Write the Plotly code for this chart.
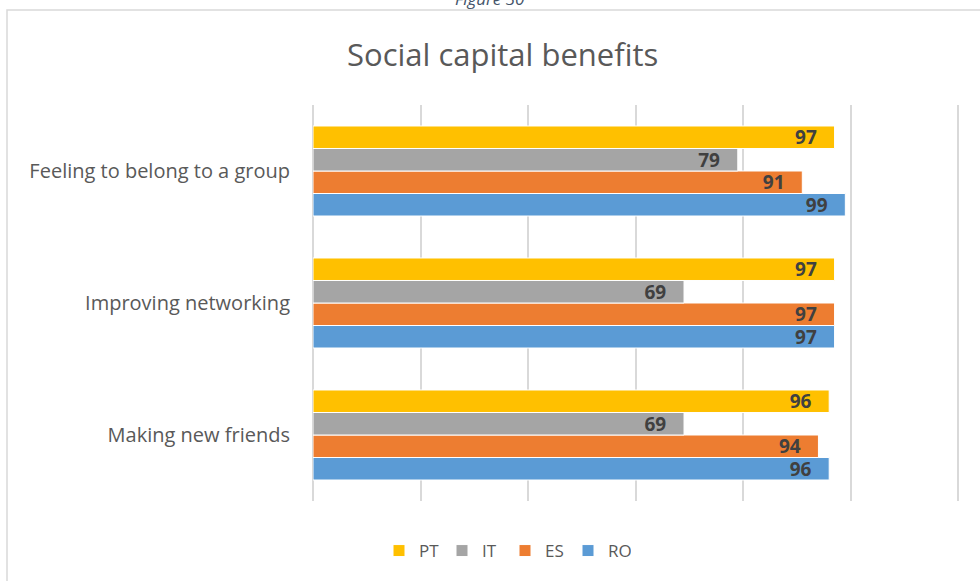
import plotly.graph_objects as go

# Categories listed bottom-to-top (Plotly draws the first category at the bottom)
categories = ["Making new friends", "Improving networking", "Feeling to belong to a group"]

# Percentages per country, same order as categories
pt_values = [96, 97, 97]
it_values = [69, 69, 79]
es_values = [94, 97, 91]
ro_values = [96, 97, 99]

grid_ticks = [0, 20, 40, 60, 80, 100, 120]

series = [
    ("RO", ro_values, "#5B9BD5"),
    ("ES", es_values, "#ED7D31"),
    ("IT", it_values, "#A5A5A5"),
    ("PT", pt_values, "#FFC000"),
]

W, H = 980, 581
L, R, T, B = 313, 11, 105, 80
pw, ph = W - L - R, H - T - B
GRID = "#D9D9D9"


def px_x(px):
    return (px - L) / pw


def px_y(py):
    return (H - B - py) / ph


fig = go.Figure()
for name, vals, color in series:
    fig.add_trace(go.Bar(
        name=name,
        y=categories,
        x=vals,
        orientation="h",
        marker=dict(color=color, line=dict(color="white", width=1)),
        text=[f"{v}\u00a0\u00a0\u00a0" for v in vals],
        textposition="inside",
        insidetextanchor="end",
        textangle=0,
        constraintext="none",
        textfont=dict(family="Open Sans", size=19, color="#404040", weight="bold"),
        hoverinfo="x+name",
    ))

frame = dict(
    type="rect",
    xref="paper", yref="paper",
    x0=px_x(7), x1=px_x(995),
    y0=px_y(600), y1=px_y(10),
    line=dict(color=GRID, width=1.5),
    fillcolor="rgba(0,0,0,0)",
    layer="below",
)

fig.update_layout(
    width=W,
    height=H,
    margin=dict(l=L, r=R, t=T, b=B),
    paper_bgcolor="white",
    plot_bgcolor="rgba(0,0,0,0)",
    barmode="group",
    bargap=0.318,
    bargroupgap=0,
    showlegend=True,
    legend=dict(
        orientation="h",
        traceorder="reversed",
        x=px_x(505),
        xanchor="center",
        y=px_y(551),
        yanchor="middle",
        font=dict(family="Open Sans", size=17, color="#595959"),
        itemwidth=30,
        entrywidth=18,
        entrywidthmode="pixels",
    ),
    xaxis=dict(
        range=[0, 122],
        tickmode="array",
        tickvals=grid_ticks,
        showgrid=True,
        gridcolor=GRID,
        gridwidth=1.5,
        showticklabels=False,
        zeroline=True,
        zerolinecolor=GRID,
        zerolinewidth=1.5,
        showline=False,
        ticks="",
        fixedrange=True,
    ),
    yaxis=dict(
        showgrid=False,
        ticks="",
        ticklabelstandoff=22,
        tickfont=dict(family="Open Sans", size=20, color="#595959"),
        showline=False,
        zeroline=False,
        fixedrange=True,
    ),
    annotations=[
        dict(
            text="Social capital benefits",
            xref="paper", yref="paper",
            x=px_x(502), y=px_y(54),
            xanchor="center", yanchor="middle",
            showarrow=False,
            font=dict(family="Open Sans", size=31, color="#595959"),
        ),
        dict(
            text="<i>Figure 30</i>",
            xref="paper", yref="paper",
            x=px_x(490), y=px_y(-2),
            xanchor="center", yanchor="middle",
            showarrow=False,
            font=dict(family="Open Sans", size=17, color="#44546A"),
        ),
    ],
    shapes=[frame],
)

fig.write_html("out.html")
